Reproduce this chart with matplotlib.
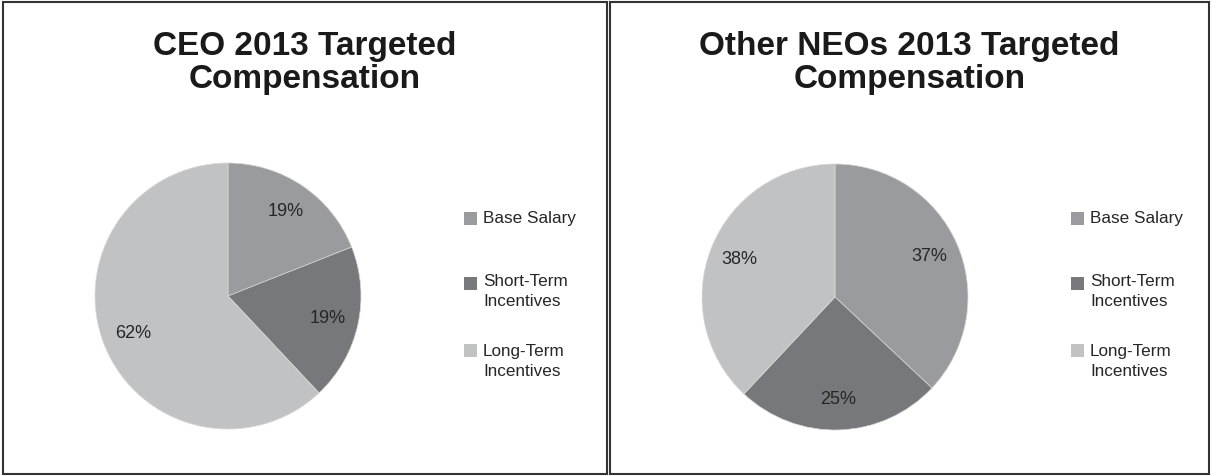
import matplotlib
matplotlib.use('Agg')
import matplotlib.pyplot as plt
from matplotlib.patches import Rectangle

plt.rcParams['font.family'] = ['Liberation Sans', 'DejaVu Sans']

# --- Data ---
categories = ['Base Salary', 'Short-Term\nIncentives', 'Long-Term\nIncentives']
ceo_values = [19, 19, 62]
neo_values = [37, 25, 38]
titles = ['CEO 2013 Targeted\nCompensation', 'Other NEOs 2013 Targeted\nCompensation']

colors = ['#9a9b9e', '#77787c', '#c1c2c4']

W, H = 1212, 476
fig = plt.figure(figsize=(W / 100, H / 100), dpi=100)


def fx(px):
    return px / W


def fy(py):
    return 1 - py / H


# panel frames (x0, x1) in pixels
panels = [(3, 607), (610, 1209)]
pie_centers = [(228, 296), (835, 297)]
legend_x = [464, 1071]
radius = 133

for (x0, x1), title, values, (cx, cy), lx in zip(panels, titles, [ceo_values, neo_values],
                                                 pie_centers, legend_x):
    fig.patches.append(Rectangle((fx(x0), fy(474)), fx(x1 - x0), (474 - 2) / H,
                                 transform=fig.transFigure, fill=False,
                                 edgecolor='#333333', linewidth=1.5))
    # baseline of the last line
    fig.text(fx((x0 + x1) / 2), fy(88), title, ha='center', va='baseline',
             fontsize=24, fontweight='bold', color='#1a1a1a', linespacing=1.07)

    ax = fig.add_axes([fx(cx - radius), fy(cy + radius), fx(2 * radius), 2 * radius / H])
    wedges, texts, autotexts = ax.pie(values, colors=colors, startangle=90, counterclock=False,
                                      autopct='%.0f%%', pctdistance=0.77,
                                      wedgeprops=dict(edgecolor='#d8d8d8', linewidth=0.5),
                                      textprops=dict(fontsize=13, color='#262626'))
    ax.set_xlim(-1, 1)
    ax.set_ylim(-1, 1)

    # legend, entries evenly spaced like the original
    for i, (label, color) in enumerate(zip(categories, colors)):
        sq_y = [218, 283, 350][i]
        base_y = [223, 306, 376][i]
        fig.patches.append(Rectangle((fx(lx), fy(sq_y + 6.5)), fx(13), 13 / H,
                                     transform=fig.transFigure, facecolor=color,
                                     edgecolor='none'))
        fig.text(fx(lx + 19), fy(base_y), label, ha='left', va='baseline',
                 fontsize=12.3, color='#262626', linespacing=1.45)

plt.savefig('out.png', dpi=100)
